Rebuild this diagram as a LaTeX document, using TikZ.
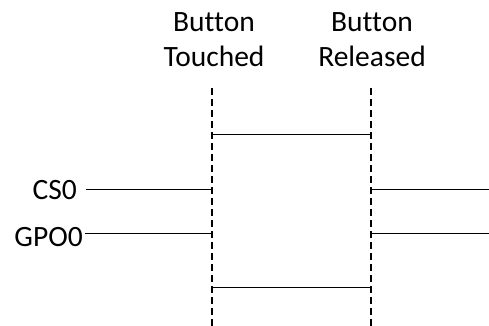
\documentclass[tikz,border=0pt]{standalone}
\usepackage{fontspec}
\setmainfont[Ligatures=NoCommon]{Carlito}
\usetikzlibrary{positioning}

\begin{document}
\begin{tikzpicture}[x=1pt, y=-1pt,
        every node/.style={font=\fontsize{29.5}{35}\selectfont},
        event/.style={align=center, anchor=base},
        signal/.style={anchor=east},
        marker/.style={line width=2.2pt, dash pattern=on 7pt off 4pt},
        wire/.style={line width=1pt}]
        \useasboundingbox (0,0) rectangle (489,326);

        % event markers
        \node[event] (touched) at (214,67) {Button\\Touched};
        \node[event] (released) at (372,67) {Button\\Released};
        \coordinate (touch top) at (212,88);
        \coordinate (touch bottom) at (212,326);
        \coordinate (release top) at (371,88);
        \coordinate (release bottom) at (371,326);

        % signal names
        \node[signal, inner sep=9pt] (cs0) at (86,190) {CS0};
        \node[signal, inner sep=2pt] (gpo0) at (85,237) {GPO0};
        \coordinate (cs0 in) at (86,189);
        \coordinate (gpo0 in) at (85,233);
        \coordinate (right end) at (489,0);

        \draw[marker]
        (touch top) -- (touch bottom)
        (release top) -- (release bottom)
        ;

        \draw[wire]
        (cs0 in) -- (touch top |- cs0 in)
        (gpo0 in) -- (touch top |- gpo0 in)
        (touch top |- 0,134) -- (release top |- 0,134)
        (touch top |- 0,287) -- (release top |- 0,287)
        (release top |- cs0 in) -- (right end |- cs0 in)
        (release top |- gpo0 in) -- (right end |- gpo0 in)
        ;
\end{tikzpicture}
\end{document}
